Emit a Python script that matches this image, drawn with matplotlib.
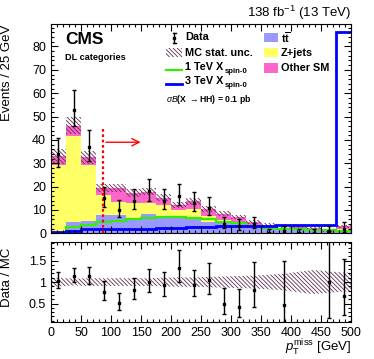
import math
import numpy as np
import matplotlib
matplotlib.use("Agg")
import matplotlib.pyplot as plt
from matplotlib.patches import Rectangle
from matplotlib.lines import Line2D
from matplotlib.ticker import MultipleLocator, FixedLocator, FuncFormatter

plt.rcParams['font.family'] = ['Liberation Sans', 'DejaVu Sans']
plt.rcParams['mathtext.fontset'] = 'custom'
plt.rcParams['mathtext.rm'] = 'Liberation Sans'
plt.rcParams['mathtext.it'] = 'Liberation Sans:italic'
plt.rcParams['mathtext.bf'] = 'Liberation Sans:bold'
plt.rcParams['hatch.linewidth'] = 0.6

# binning: 20 bins of 25 GeV
edges = np.arange(0, 525, 25)
centers = edges[:-1] + 12.5

# data counts
data = [34, 53, 37, 15, 10, 14, 18, 14, 16, 13, 11, 4, 3, 4, 0, 1, 0, 0, 1, 2]

# background stack
ttbar = [0.6, 4.7, 5.3, 7.8, 7.8, 6.4, 8.3, 6.8, 6.6, 6.2, 5.0, 4.3, 4.3, 2.9, 2.1, 1.3, 1.5, 1.0, 0.5, 1.2]
zjets = [28.7, 37.1, 24.0, 8.6, 5.7, 6.5, 4.6, 5.3, 3.4, 4.1, 2.4, 1.4, 0.7, 0.7, 0.6, 0.4, 0.5, 0.5, 0.2, 0.6]
other = [3.7, 4.2, 3.2, 3.1, 5.7, 4.4, 4.9, 3.1, 2.1, 3.5, 3.2, 2.6, 2.0, 1.3, 0.9, 0.5, 1.0, 0.7, 0.3, 1.2]

# relative MC stat. uncertainty
mc_rel_unc = [0.10, 0.08, 0.09, 0.09, 0.09, 0.09, 0.09, 0.10, 0.11, 0.11,
              0.12, 0.13, 0.14, 0.15, 0.17, 0.19, 0.24, 0.28, 0.25, 0.22]

# signals
sig_1tev = [0.3, 2.6, 3.6, 5.0, 5.4, 6.0, 6.6, 6.8, 6.8, 6.6, 6.0, 5.0, 4.3, 3.1, 2.3, 2.0, 1.7, 1.4, 1.2, 1.0]
sig_3tev = [0.7, 1.1, 1.7, 1.7, 2.0, 2.0, 2.0, 2.1, 2.3, 2.5, 2.8, 3.0, 3.1, 3.2, 3.3, 3.5, 3.5, 3.6, 3.6, 86.0]

cut_x = 87
arrow_end = 154


def pois_cdf(k, mu):
    if k < 0:
        return 0.0
    term = math.exp(-mu)
    s = term
    for i in range(1, k + 1):
        term *= mu / i
        s += term
    return s


def bisect(f, lo, hi):
    for _ in range(80):
        mid = 0.5 * (lo + hi)
        if f(mid) > 0:
            lo = mid
        else:
            hi = mid
    return 0.5 * (lo + hi)


def garwood(n, a=0.158655):
    top = n + 10 * math.sqrt(n + 1) + 10
    up = bisect(lambda mu: pois_cdf(n, mu) - a, 0.0, top)
    if n == 0:
        low = 0.0
    else:
        low = bisect(lambda mu: a - (1 - pois_cdf(n - 1, mu)), 0.0, top)
    return n - low, up - n


data = np.array(data, dtype=float)
ttbar = np.array(ttbar)
zjets = np.array(zjets)
other = np.array(other)
mc = ttbar + zjets + other
mc_unc = mc * np.array(mc_rel_unc)
errs = np.array([garwood(int(n)) for n in data])
err_lo, err_hi = errs[:, 0], errs[:, 1]

W, H = 374, 359
fig = plt.figure(figsize=(W / 100, H / 100), dpi=100)
renderer = fig.canvas.get_renderer()


def fx(px):
    return px / W


def fy(py):
    return 1 - py / H


ax = fig.add_axes([fx(51), fy(233.3), fx(351) - fx(51), fy(24.3) - fy(233.3)])
axr = fig.add_axes([fx(51), fy(322), fx(351) - fx(51), fy(241.7) - fy(322)])

c_tt = '#9999ff'
c_z = '#ffff66'
c_o = '#ff66cc'
c_hatch = '#5e2e52'
hatch = '\\\\\\\\\\\\\\\\'

ax.stairs(ttbar, edges, baseline=0, fill=True, color=c_tt, lw=0)
ax.stairs(ttbar + zjets, edges, baseline=ttbar, fill=True, color=c_z, lw=0)
ax.stairs(mc, edges, baseline=ttbar + zjets, fill=True, color=c_o, lw=0)
ax.stairs(mc + mc_unc, edges, baseline=mc - mc_unc, fill=True, facecolor='none',
          edgecolor=c_hatch, hatch=hatch, lw=0)

ax.stairs(sig_1tev, edges, baseline=None, color='#33ee00', lw=1.6)
ax.stairs(sig_3tev, edges, baseline=None, color='#0000ff', lw=2.0)

ax.errorbar(centers, data, yerr=[err_lo, err_hi], fmt='s', color='black',
            ms=1.8, elinewidth=1.0, capsize=1.3, capthick=1.0)

ax.plot([cut_x, cut_x], [0, 45], color='red', ls=(0, (1.2, 1.2)), lw=1.6)
ax.annotate('', xy=(arrow_end, 39), xytext=(cut_x, 39),
            arrowprops=dict(arrowstyle='->', color='red', lw=1.0,
                            mutation_scale=13))

ax.set_xlim(0, 500)
ax.set_ylim(0, 89.5)

# ratio panel
ratio_band_x = np.concatenate([[0], centers, [500]])
rel = np.array(mc_rel_unc)
ratio_band_u = np.concatenate([[rel[0]], rel, [rel[-1]]])
axr.fill_between(ratio_band_x, 1 - ratio_band_u, 1 + ratio_band_u, facecolor='none',
                 edgecolor=c_hatch, hatch=hatch, lw=0)

mask = data > 0
axr.errorbar(centers[mask], data[mask] / mc[mask],
             yerr=[err_lo[mask] / mc[mask], err_hi[mask] / mc[mask]],
             fmt='s', color='black', ms=1.8, elinewidth=1.0, capsize=1.3, capthick=1.0)
axr.set_xlim(0, 500)
axr.set_ylim(0.07, 1.94)

for a in (ax, axr):
    a.tick_params(which='both', direction='in', top=True, right=True,
                  labelsize=9, width=0.8)
    a.tick_params(which='major', length=5)
    a.tick_params(which='minor', length=2.5)
    a.xaxis.set_major_locator(MultipleLocator(50))
    a.xaxis.set_minor_locator(MultipleLocator(10))
    for s in a.spines.values():
        s.set_linewidth(0.8)

ax.yaxis.set_major_locator(MultipleLocator(10))
ax.yaxis.set_minor_locator(MultipleLocator(2))
ax.tick_params(labelbottom=False)
axr.yaxis.set_major_locator(FixedLocator([0.5, 1.0, 1.5]))
axr.yaxis.set_minor_locator(MultipleLocator(0.1))
axr.yaxis.set_major_formatter(FuncFormatter(lambda v, p: f"{v:g}"))

ax.set_ylabel("Events / 25 GeV", loc='top', fontsize=9.5)
ax.yaxis.set_label_coords(-0.125, 1.0)
axr.set_ylabel("Data / MC", fontsize=9.5)
axr.yaxis.set_label_coords(-0.125, 0.56)
axr.set_xlabel(r"$p_{\mathrm{T}}^{\mathrm{miss}}$ [GeV]", loc='right', fontsize=9.5)
axr.xaxis.set_label_coords(1.0, -0.2)

# header texts
fig.text(fx(351), fy(13), r"138 fb$^{-1}$ (13 TeV)", ha='right', va='center', fontsize=9.5)
fig.text(fx(65), fy(40), "CMS", ha='left', va='center', fontsize=12.5, fontweight='bold')
fig.text(fx(65), fy(57), "DL categories", ha='left', va='center', fontsize=6.6, fontweight='bold')

# legend, column 1
lfs = 7.8
fig.add_artist(Line2D([fx(174), fx(174)], [fy(33), fy(43)], color='black', lw=1.0))
fig.add_artist(Line2D([fx(172.5), fx(175.5)], [fy(33), fy(33)], color='black', lw=1.0))
fig.add_artist(Line2D([fx(172.5), fx(175.5)], [fy(43), fy(43)], color='black', lw=1.0))
fig.add_artist(Line2D([fx(174)], [fy(38)], marker='s', ms=1.8, color='black'))
fig.text(fx(185), fy(37.5), "Data", ha='left', va='center', fontsize=lfs, fontweight='bold')

fig.add_artist(Rectangle((fx(166), fy(57)), fx(182) - fx(166), fy(48) - fy(57),
                         facecolor='none', edgecolor=c_hatch, hatch=hatch, lw=0))
fig.text(fx(185), fy(52.5), "MC stat. unc.", ha='left', va='center', fontsize=lfs, fontweight='bold')

for lab, col, lw, yy in [("1 TeV X", '#33ee00', 1.6, 67.5), ("3 TeV X", '#0000ff', 2.0, 81.5)]:
    fig.add_artist(Line2D([fx(166), fx(182)], [fy(yy + 2), fy(yy + 2)], color=col, lw=lw))
    t = fig.text(fx(185), fy(yy), lab, ha='left', va='center', fontsize=lfs, fontweight='bold')
    bb = t.get_window_extent(renderer)
    fig.text(bb.x1 / W + 0.003, fy(yy + 4), "spin-0", ha='left', va='center',
             fontsize=5.6, fontweight='bold')

fig.text(fx(166), fy(99.5), r"$\sigma B$(X $\rightarrow$HH) = 0.1 pb", ha='left', va='center',
         fontsize=6.2, fontweight='bold')

# legend, column 2
boxes = [(c_tt, r"t$\overline{\mathbf{t}}$", 37.5), (c_z, "Z+jets", 52.5), (c_o, "Other SM", 68)]
for col, lab, yy in boxes:
    fig.add_artist(Rectangle((fx(264), fy(yy + 4.5)), fx(278) - fx(264), fy(yy - 4.5) - fy(yy + 4.5),
                             facecolor=col, lw=0))
    fig.text(fx(281), fy(yy), lab, ha='left', va='center', fontsize=lfs, fontweight='bold')

fig.savefig("out.png", dpi=100)
